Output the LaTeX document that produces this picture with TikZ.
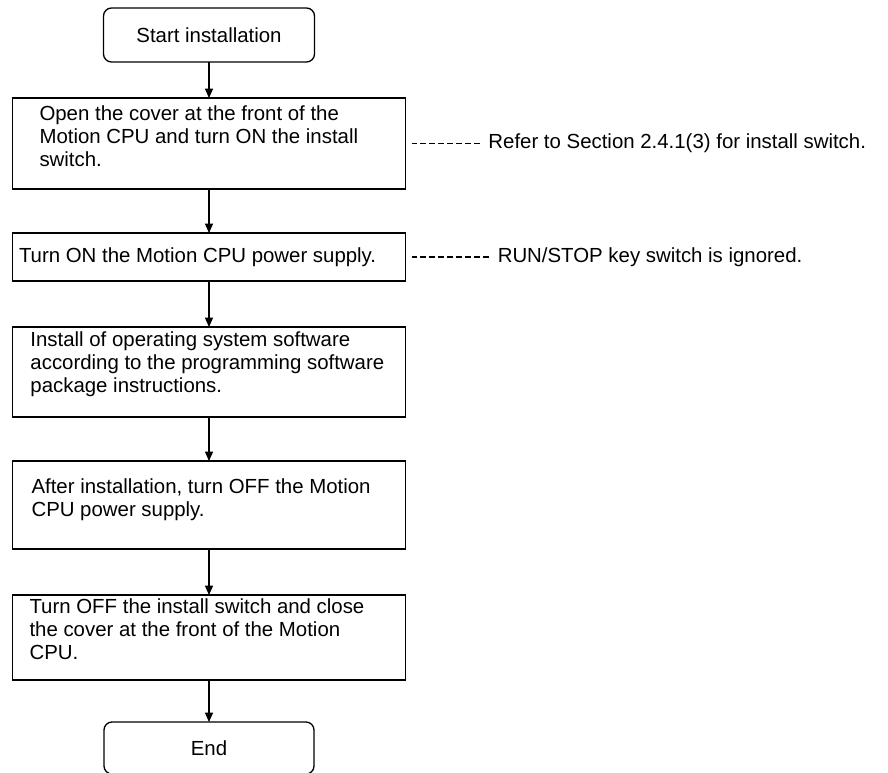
\documentclass[tikz,border=0pt]{standalone}
\usepackage{fontspec}
\setmainfont{Liberation Sans}
\usetikzlibrary{arrows.meta, positioning}

\begin{document}
\begin{tikzpicture}[
      x=0.75pt, y=-0.75pt,
      termbox/.style={rectangle, draw, line width=1pt, rounded corners=6pt, minimum width=158.25pt, outer sep=0pt, font=\fontsize{15.3pt}{17.3pt}\selectfont},
      stepbox/.style={rectangle, draw, line width=1pt, minimum width=294.75pt, inner sep=0pt, outer sep=0pt, font=\fontsize{15.3pt}{17.3pt}\selectfont},
      note/.style={inner sep=2pt, font=\fontsize{15.3pt}{17.3pt}\selectfont},
      arrow/.style={-{Triangle[length=7pt, width=6pt]}, line width=1pt},
      leader/.style={dash pattern=on 4.3pt off 2.4pt, line width=0.8pt, shorten <=4.5pt, shorten >=2.5pt}
    ]
    \useasboundingbox (0,0) rectangle (888,773);

    \node[termbox, minimum height=40.5pt] (start) at (209,35) {Start installation};

    \node[stepbox, minimum height=68.25pt, below=27pt of start] (cover) {\parbox[c][56.25pt][t]{285pt}{\leftskip=15.4pt Open the cover at the front of the\\Motion CPU and turn ON the install\\switch.}};
    \node[stepbox, minimum height=36pt, below=33pt of cover] (power) {\parbox{285pt}{Turn ON the Motion CPU power supply.}};
    \node[stepbox, minimum height=67.5pt, below=34.5pt of power] (software) {\parbox[c][60pt][t]{285pt}{\leftskip=8.6pt Install of operating system software\\according to the programming software\\package instructions.}};
    \node[stepbox, minimum height=66pt, below=33pt of software] (poweroff) {\parbox[c][39pt][t]{285pt}{\leftskip=9.4pt After installation, turn OFF the Motion\\CPU power supply.}};
    \node[stepbox, minimum height=63.75pt, below=34.5pt of poweroff] (close) {\parbox[c][57.75pt][t]{285pt}{\leftskip=7.9pt Turn OFF the install switch and close\\the cover at the front of the Motion\\CPU.}};

    \node[termbox, minimum width=157.5pt, minimum height=39pt, below=31.5pt of close] (end) {End};

    \node[note, right=60pt of cover] (switchnote) {Refer to Section 2.4.1(3) for install switch.};
    \node[note, right=67pt of power] (keynote) {RUN/STOP key switch is ignored.};

    \draw[arrow] (start) -- (cover);
    \draw[arrow] (cover) -- (power);
    \draw[arrow] (power) -- (software);
    \draw[arrow] (software) -- (poweroff);
    \draw[arrow] (poweroff) -- (close);
    \draw[arrow] (close) -- (end);

    \draw[leader] (cover) -- (switchnote);
    \draw[leader] (power) -- (keynote);
  \end{tikzpicture}
\end{document}
